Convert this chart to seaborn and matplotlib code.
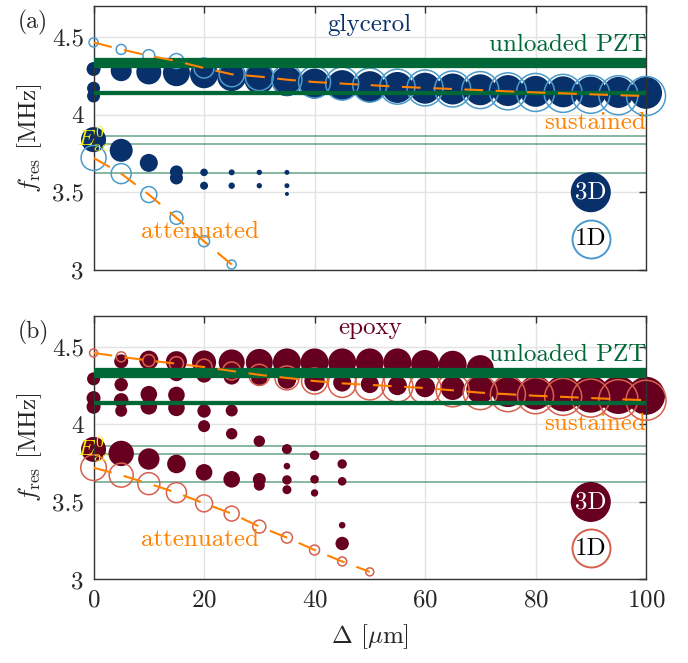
import numpy as np
import pandas as pd
import seaborn as sns
from matplotlib import pyplot as plt

sns.set_theme(style='whitegrid')
plt.rcParams['font.family'] = ['cmr10', 'DejaVu Serif']
plt.rcParams['mathtext.fontset'] = 'cm'
plt.rcParams['axes.formatter.use_mathtext'] = True

# ---------------- data ----------------
delta = list(range(0, 105, 5))

# glycerol, 1D model: sustained branch and attenuated branch
gly_1d_sus_f = [4.465, 4.42, 4.38, 4.345, 4.30, 4.26, 4.245, 4.225, 4.21, 4.20, 4.19,
                4.18, 4.172, 4.165, 4.158, 4.15, 4.143, 4.137, 4.131, 4.125, 4.12]
gly_1d_sus_amp = [4.5, 5, 6, 7.5, 10, 12.5, 14, 15, 16, 16.5, 17,
                  17.5, 18, 18, 18.5, 18.5, 19, 19, 19, 19.5, 19.5]
gly_1d_att_x = [0, 5, 10, 15, 20, 25]
gly_1d_att_f = [3.721, 3.62, 3.485, 3.335, 3.184, 3.034]
gly_1d_att_amp = [12.5, 10, 8, 6.5, 5.5, 4.5]

# glycerol, 3D model
gly_3d_sus_f = [4.294, 4.283, 4.275, 4.27, 4.26, 4.245, 4.23, 4.215, 4.20, 4.19, 4.18,
                4.175, 4.17, 4.165, 4.16, 4.155, 4.15, 4.147, 4.145, 4.143, 4.14]
gly_3d_sus_amp = [7, 10.5, 12.5, 13.5, 14, 14.5, 15, 15, 15, 15, 15.5,
                  15.5, 15.5, 15.5, 15.5, 15.5, 15.5, 15.5, 15.5, 15.5, 16]
gly_3d_x = [0, 0, 0, 5, 10, 15, 15, 20, 20, 25, 25, 30, 30, 35, 35, 35]
gly_3d_f = [4.17, 4.12, 3.839, 3.77, 3.689, 3.631, 3.592, 3.628, 3.542,
            3.628, 3.542, 3.628, 3.542, 3.628, 3.542, 3.489]
gly_3d_amp = [6.5, 6.5, 12.5, 11.5, 9, 6.5, 6.5, 3.8, 4, 3, 3.2, 2.7, 2.7, 2.5, 2.5, 2]

# epoxy, 1D model
epo_1d_sus_f = [4.461, 4.436, 4.412, 4.392, 4.37, 4.345, 4.32, 4.30, 4.28, 4.265, 4.255,
                4.245, 4.235, 4.22, 4.205, 4.195, 4.185, 4.178, 4.17, 4.163, 4.156]
epo_1d_sus_amp = [4, 5, 6, 7, 8, 9, 10.5, 12, 13, 14, 15,
                  15.5, 16, 16.5, 17, 17.5, 18, 18.5, 19, 19.5, 20]
epo_1d_att_x = [0, 5, 10, 15, 20, 25, 30, 35, 40, 45, 50]
epo_1d_att_f = [3.721, 3.673, 3.618, 3.56, 3.491, 3.425, 3.341, 3.27, 3.19, 3.116, 3.049]
epo_1d_att_amp = [12.8, 12, 11, 10, 8.5, 7.5, 6.5, 5.5, 5, 4.5, 4]

# epoxy, 3D model
epo_3d_up_x = list(range(5, 75, 5))
epo_3d_up_f = [4.407, 4.415, 4.405, 4.40, 4.40, 4.40, 4.40, 4.40, 4.40, 4.40, 4.40, 4.39, 4.385, 4.36]
epo_3d_up_amp = [7, 9.5, 10.5, 12, 13, 13.5, 14, 14, 14, 14, 14, 14, 14, 13.5]
epo_3d_sus_x = list(range(15, 105, 5))
epo_3d_sus_f = [4.33, 4.32, 4.31, 4.30, 4.29, 4.28, 4.27, 4.26, 4.25, 4.24, 4.235, 4.225,
                4.215, 4.205, 4.20, 4.195, 4.19, 4.185]
epo_3d_sus_amp = [7.9, 7.8, 8.2, 8.2, 9.3, 10.2, 9, 9, 9.5, 10, 12, 14,
                  16, 17, 18, 18.5, 19, 19]
epo_3d_x = [0, 0, 0, 0, 5, 5, 5, 5, 10, 10, 10, 15, 15, 15, 20, 20, 20, 25, 25, 25,
            30, 30, 30, 35, 35, 35, 35, 40, 40, 40, 45, 45, 45, 45]
epo_3d_f = [4.294, 4.17, 4.114, 3.839, 4.257, 4.155, 4.088, 3.813, 4.195, 4.117, 3.777,
            4.19, 4.107, 3.745, 4.087, 3.989, 3.691, 4.09, 3.94, 3.646,
            3.892, 3.645, 3.608, 3.841, 3.731, 3.642, 3.579, 3.801, 3.646, 3.558,
            3.745, 3.633, 3.35, 3.232]
epo_3d_amp = [6.5, 7, 7, 12.5, 6.7, 7.3, 6, 12.7, 8.3, 8.3, 10.7, 8.3, 8.3, 9.3,
              6.7, 6, 8.3, 6, 5.7, 8.3, 5.7, 6.5, 5.5, 5, 3.3, 4.7, 4.5, 4.7, 4.3, 3.7,
              4.7, 4.3, 3.3, 6.7]

# unloaded PZT resonances (same in both panels)
pzt_f = [4.33, 4.14, 3.86, 3.808, 3.626]
pzt_w = [7.4, 3.1, 1.1, 1.1, 1.1]

# ---------------- styling ----------------
green = '#006837'
orange = '#ff8200'
fs = 18
panels = [
    dict(tag='(a)', name='glycerol', dark='#08306b', light='#4a9bcb',
         s1=gly_1d_sus_f, s1a=gly_1d_sus_amp, ax_=gly_1d_att_x, af=gly_1d_att_f, aa=gly_1d_att_amp,
         d3=[(delta, gly_3d_sus_f, gly_3d_sus_amp), (gly_3d_x, gly_3d_f, gly_3d_amp)],
         name_y=4.54, sus_y=3.91, att_y=3.206),
    dict(tag='(b)', name='epoxy', dark='#67001f', light='#d6604d',
         s1=epo_1d_sus_f, s1a=epo_1d_sus_amp, ax_=epo_1d_att_x, af=epo_1d_att_f, aa=epo_1d_att_amp,
         d3=[(epo_3d_up_x, epo_3d_up_f, epo_3d_up_amp), (epo_3d_sus_x, epo_3d_sus_f, epo_3d_sus_amp),
             (epo_3d_x, epo_3d_f, epo_3d_amp)],
         name_y=4.584, sus_y=3.965, att_y=3.216),
]
key_x = 90
key_y = [3.5, 3.2]


def size(amp):
    # amplitude given as marker radius in pixels at 100 dpi -> points^2
    return (2 * np.asarray(amp) * 0.72) ** 2


fig = plt.figure(figsize=(6.88, 6.63), dpi=100)
rects = [[0.136, 0.593, 0.803, 0.398], [0.136, 0.126, 0.803, 0.3975]]

for p, rect in zip(panels, rects):
    ax = fig.add_axes(rect)
    ax.set_facecolor('white')

    for f, w in zip(pzt_f[2:], pzt_w[2:]):
        ax.axhline(f, color=green, lw=w, alpha=0.6, zorder=1)

    for xs, fv, amps in p['d3']:
        df = pd.DataFrame({'d': xs, 'f': fv})
        sns.scatterplot(data=df, x='d', y='f', ax=ax, s=size(amps), color=p['dark'],
                        edgecolor='none', linewidth=0, zorder=2, clip_on=False)

    for xs, fv, amps in [(delta, p['s1'], p['s1a']), (p['ax_'], p['af'], p['aa'])]:
        df = pd.DataFrame({'d': xs, 'f': fv})
        sns.scatterplot(data=df, x='d', y='f', ax=ax, s=size(amps), facecolor='none',
                        edgecolor=p['light'], linewidth=1.1, zorder=3, clip_on=False)

    for f, w in zip(pzt_f[:2], pzt_w[:2]):
        ax.axhline(f, color=green, lw=w, zorder=4, solid_capstyle='butt')

    ax.plot(delta, p['s1'], color=orange, lw=1.5, ls=(0, (9, 6)), zorder=5)
    ax.plot(p['ax_'], p['af'], color=orange, lw=1.5, ls=(0, (9, 6)), zorder=5)

    # key
    ax.scatter([key_x], [key_y[0]], s=size(20), color=p['dark'], edgecolor='none', zorder=6)
    ax.scatter([key_x], [key_y[1]], s=size(19), facecolor='white', edgecolor=p['light'],
               linewidth=1.4, zorder=6)
    ax.text(key_x, key_y[0], '3D', color='white', fontsize=fs, ha='center', va='center', zorder=7)
    ax.text(key_x, key_y[1], '1D', color='black', fontsize=fs, ha='center', va='center', zorder=7)

    ax.text(50, p['name_y'], p['name'], color=p['dark'], fontsize=fs, ha='center', va='baseline')
    ax.text(100, 4.407, 'unloaded PZT', color=green, fontsize=fs, ha='right', va='baseline', zorder=8)
    ax.text(100, p['sus_y'], 'sustained', color=orange, fontsize=fs, ha='right', va='baseline')
    ax.text(19.3, p['att_y'], 'attenuated', color=orange, fontsize=fs, ha='center', va='baseline')
    ax.text(0, 3.839, r'$E_{\rm ac}^0$', color='#f5f000', fontsize=16, ha='center', va='center', zorder=8)

    ax.set_xlim(0, 100)
    ax.set_ylim(3, 4.7)
    ax.set_xticks([0, 20, 40, 60, 80, 100])
    ax.set_yticks([3, 3.5, 4, 4.5])
    ax.set_yticklabels(['3', '3.5', '4', '4.5'])
    ax.grid(True, color='#e3e3e3', lw=1)
    ax.tick_params(direction='in', top=True, right=True, length=5, width=1,
                   labelsize=fs, color='#333333', pad=7)
    for sp in ax.spines.values():
        sp.set_color('#333333')
        sp.set_linewidth(1)
    ax.set_ylabel(r'$f_{\rm res}$ [MHz]', fontsize=fs, labelpad=6)
    ax.set_xlabel('')
    fig.text(0.026, rect[1] + rect[3] - 0.025, p['tag'], fontsize=17, ha='left', va='center')

fig.axes[0].set_xticklabels([])
fig.axes[1].set_xlabel(r'$\Delta$ [$\mu$m]', fontsize=fs, labelpad=8)

plt.savefig('out.png', dpi=100)
